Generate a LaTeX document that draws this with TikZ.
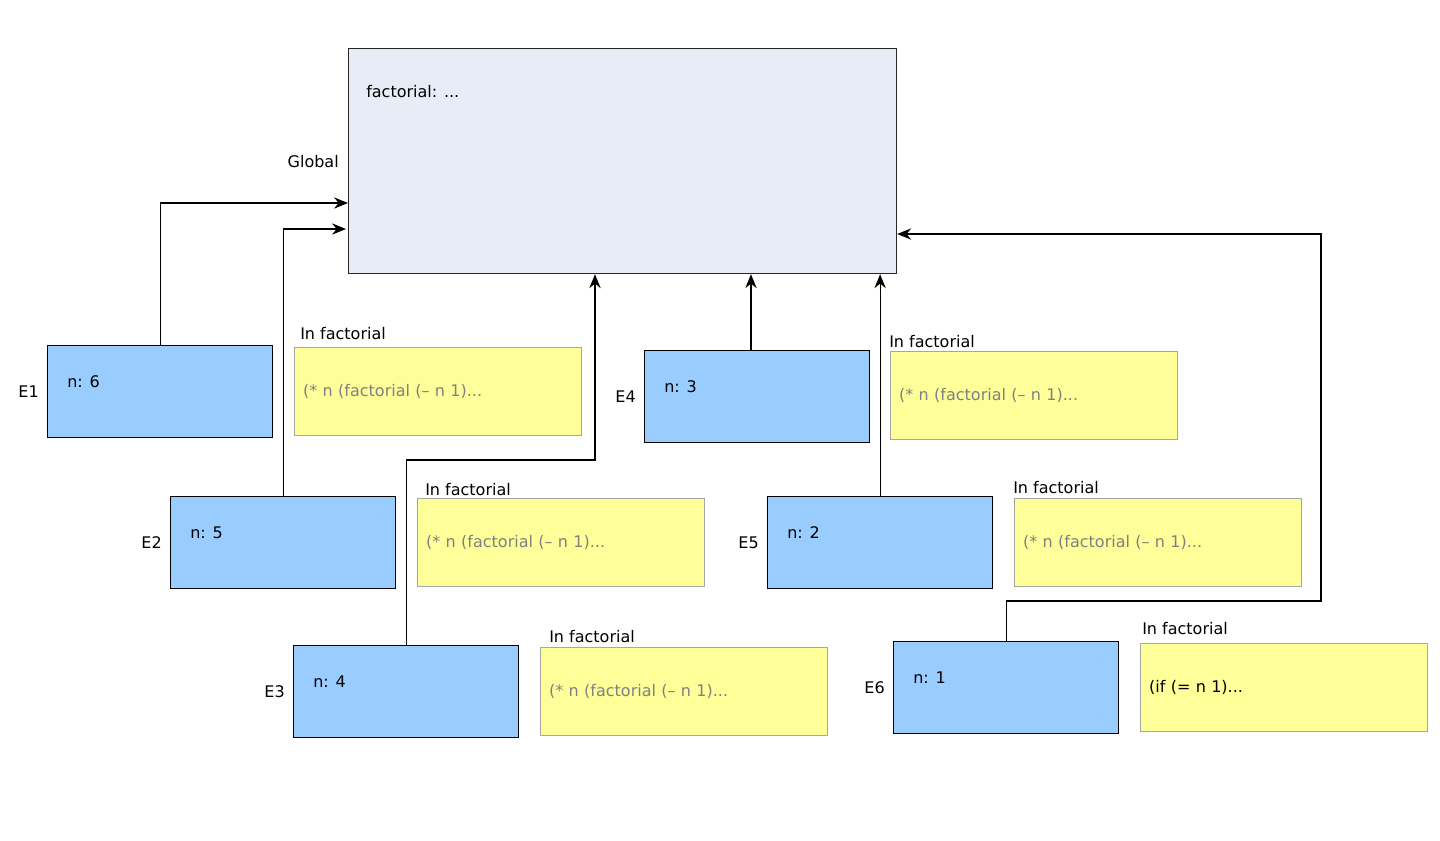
\documentclass[tikz,border=0pt]{standalone}
\usepackage{fontspec}
\setmainfont{DejaVu Sans}
\usetikzlibrary{arrows.meta,calc,positioning}
\definecolor{globalfill}{HTML}{E6EDF7}
\definecolor{envfill}{HTML}{99CCFF}
\definecolor{codefill}{HTML}{FFFF99}
\definecolor{codeline}{HTML}{A6A6A6}
\definecolor{codegray}{HTML}{808080}
\newcommand{\reccall}{(* n (factorial (– n 1)...}
\newcommand{\basecase}{(if (= n 1)...}

\begin{document}
\begin{tikzpicture}[x=0.75pt,y=-0.75pt,font=\fontsize{12}{14}\selectfont,
  globalbox/.style={draw=black!85,fill=globalfill,line width=0.9pt,anchor=north west,
    inner sep=0pt,minimum width=411pt,minimum height=168.75pt},
  envbox/.style={draw=black,fill=envfill,line width=0.9pt,anchor=north west,
    inner sep=0pt,minimum width=168.75pt,minimum height=69pt},
  envlab/.style={inner sep=0pt,label distance=6pt},
  codebox/.style={draw=codeline,fill=codefill,line width=0.75pt,anchor=north west,
    inner xsep=6.5pt,inner ysep=0pt,text width=202pt,align=left,minimum height=66pt},
  link/.style={-{Stealth[length=10.5pt,width=8.5pt,inset=3.5pt]},line width=0.9pt}]
  \useasboundingbox (0,0) rectangle (1440,840);

  % global frame
  \node[globalbox] (global) at (348,48) {};
  \node[anchor=west,inner sep=0pt] (gtext) at ($(global.north west)+(18,44)$) {factorial: ...};
  \node[anchor=east,inner sep=0pt] (glab) at ($(global.west)+(-9,0)$) {Global};

  % environments E1..E6
  \foreach \i/\x/\y/\v in {1/47/345/6,2/170/496/5,3/293/645/4,4/644/350/3,5/767/496/2,6/893/641/1}{
    \node[envbox,label={[envlab]left:E\i}] (e\i) at (\x,\y) {};
    \node[anchor=west,inner sep=0pt] (n\i) at ($(e\i.north west)+(20,37)$) {n: \v};
  }

  % bodies being evaluated
  \foreach \i/\x/\y/\dx/\dy/\col/\code in {1/294/347/6/7/codegray/\reccall,2/417/498/8/2/codegray/\reccall,
      3/540/647/9/4/codegray/\reccall,4/890/351/-1/3/codegray/\reccall,
      5/1014/498/-1/4/codegray/\reccall,6/1140/643/2/8/black/\basecase}{
    \node[codebox,text=\col] (c\i) at (\x,\y) {\code};
    \node[anchor=south west,inner sep=0pt] (h\i) at ($(c\i.north west)+(\dx,-\dy)$) {In factorial};
  }

  % enclosing environment pointers
  \coordinate (g4) at ($(global.south west)+(403,0)$);
  \coordinate (turn6) at (1321,601);
  \draw[link] (e1.north) |- ($(global.north west)+(0,155)$);
  \draw[link] (e2.north) |- ($(global.north west)+(-2,181)$);
  \draw[link] (e3.north) -- ++(0,-185) -| ($(global.south west)+(247,0)$);
  \draw[link] (e4.north -| g4) -- (g4);
  \draw[link] (e5.north) -- (e5.north |- global.south);
  \draw[link] (e6.north) |- (turn6) |- ($(global.north east)+(0,186)$);
\end{tikzpicture}
\end{document}
